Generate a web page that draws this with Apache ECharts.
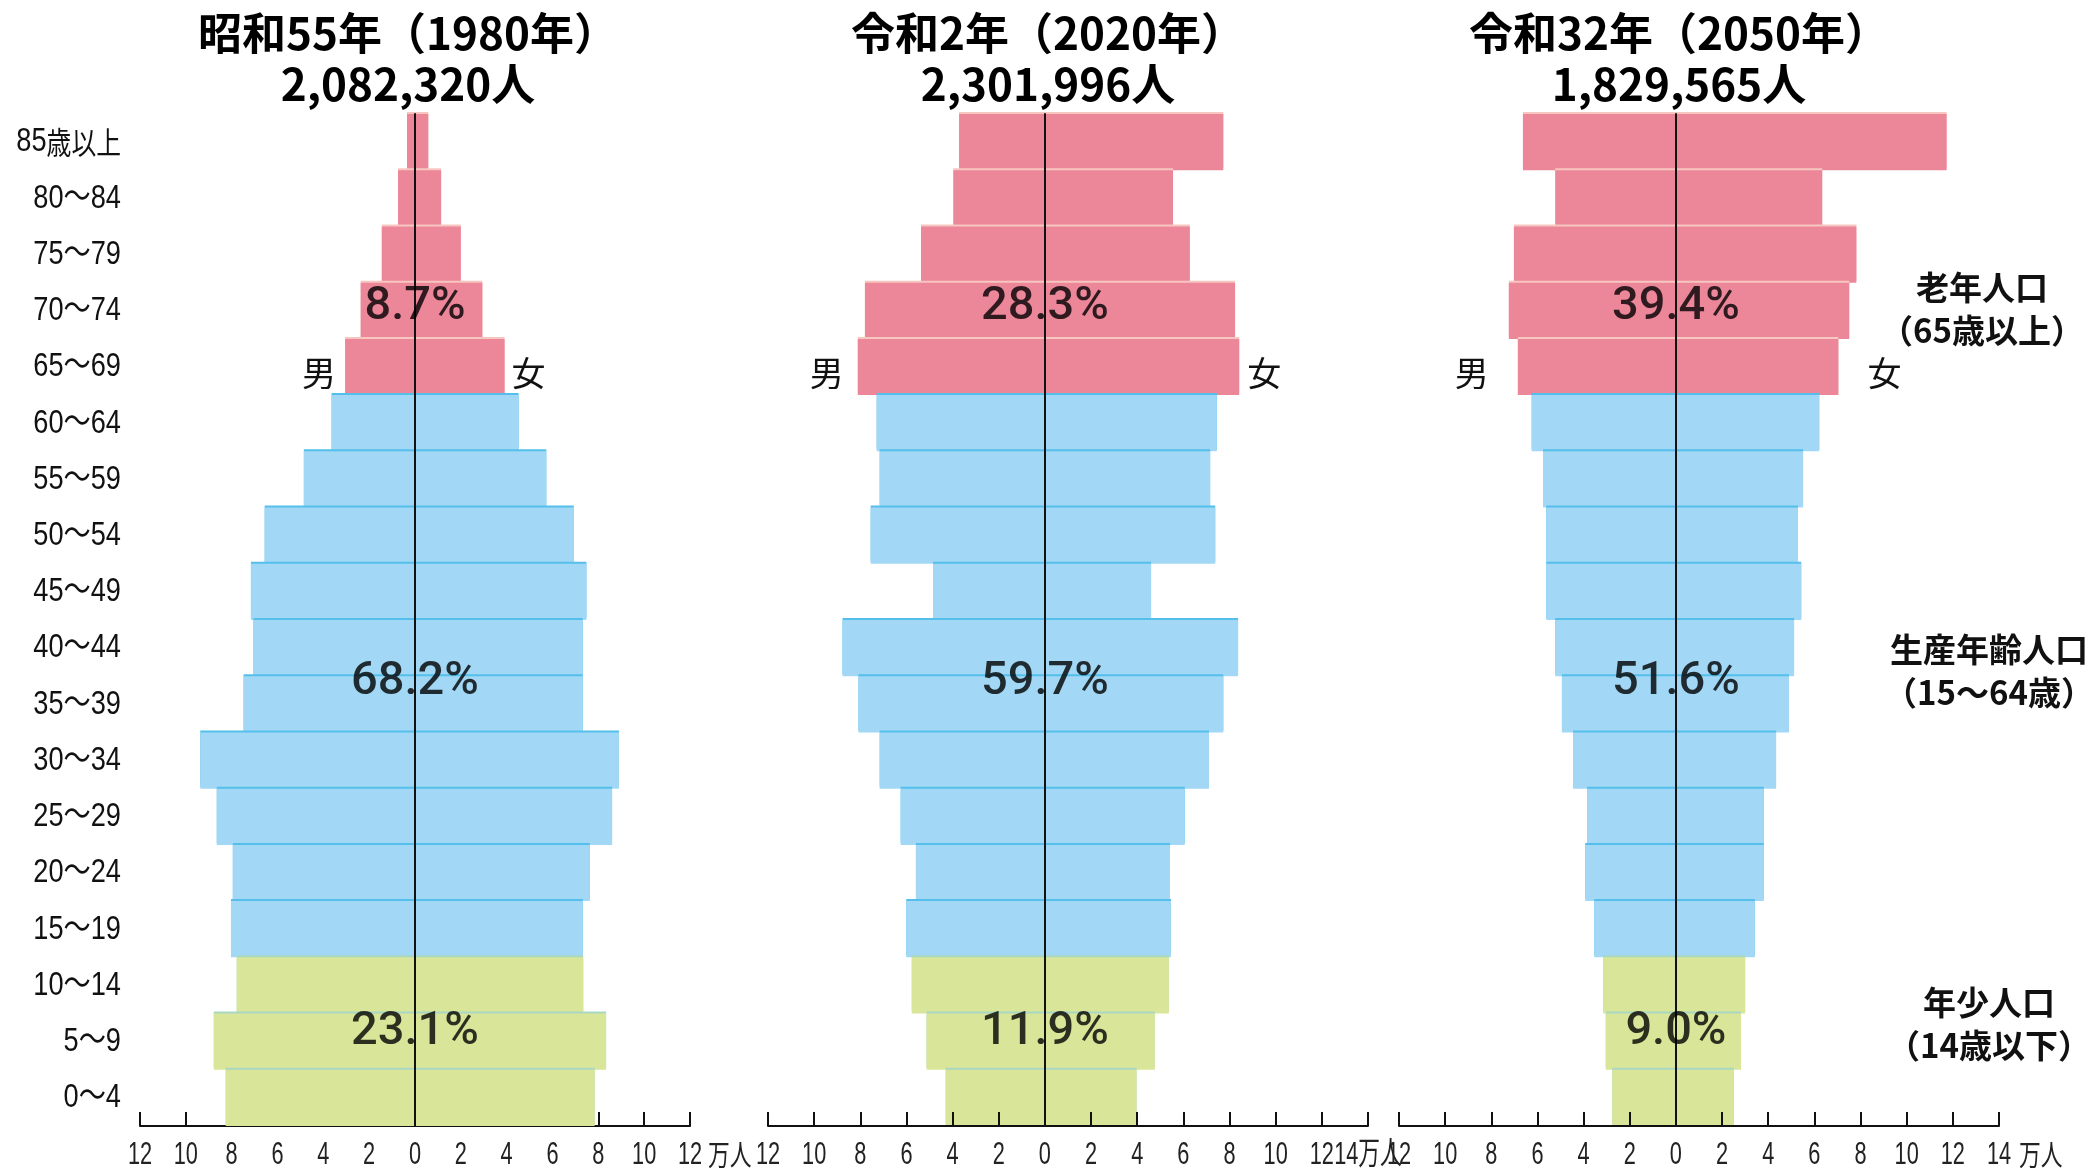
<!DOCTYPE html>
<html><head><meta charset="utf-8">
<script src="https://cdn.jsdelivr.net/npm/echarts/dist/echarts.min.js"></script>
<style>html,body{margin:0;padding:0;background:#fff}#c{width:2091px;height:1169px}</style>
</head><body><div id="c"></div>
<script>
// ---------- data ----------
const ageCats = ['85歳以上','80～84','75～79','70～74','65～69','60～64','55～59','50～54','45～49','40～44','35～39','30～34','25～29','20～24','15～19','10～14','5～9','0～4'];
// 0: 老年人口, 1: 生産年齢人口, 2: 年少人口
const ageGroup = [0,0,0,0,0,1,1,1,1,1,1,1,1,1,1,2,2,2];

const titleYears = ['昭和55年（1980年）','令和2年（2020年）','令和32年（2050年）'];
const totals = ['2,082,320人','2,301,996人','1,829,565人'];

// 万人
const male1980   = [0.35,0.74,1.45,2.37,3.05,3.64,4.85,6.56,7.16,7.05,7.48,9.37,8.65,7.95,8.03,7.78,8.78,8.26];
const female1980 = [0.58,1.14,2.00,2.94,3.91,4.52,5.73,6.93,7.48,7.32,7.32,8.90,8.60,7.63,7.32,7.34,8.34,7.84];
const male2020   = [3.72,3.97,5.37,7.80,8.11,7.29,7.16,7.55,4.85,8.77,8.08,7.16,6.25,5.59,6.01,5.77,5.13,4.30];
const female2020 = [7.73,5.55,6.28,8.24,8.42,7.45,7.16,7.38,4.60,8.37,7.73,7.11,6.06,5.42,5.46,5.37,4.76,3.97];
const male2050   = [6.63,5.23,7.02,7.24,6.85,6.25,5.76,5.62,5.62,5.23,4.94,4.46,3.85,3.93,3.54,3.15,3.04,2.76];
const female2050 = [11.73,6.34,7.82,7.51,7.04,6.21,5.51,5.29,5.43,5.12,4.90,4.34,3.81,3.81,3.42,3.00,2.82,2.51];

const pct1980 = ['8.7%','68.2%','23.1%'];
const pct2020 = ['28.3%','59.7%','11.9%'];
const pct2050 = ['39.4%','51.6%','9.0%'];
const pctRows = ['70～74','35～39','5～9'];

const groupNames = ['老年人口\n（65歳以上）','生産年齢人口\n（15～64歳）','年少人口\n（14歳以下）'];
const axisMin = -12;
const axisMax = [12,14,14];
const unitText = '万人';

// ---------- style / layout ----------
const SANS = "'Liberation Sans',Arial,'Noto Sans CJK JP',sans-serif";
const JP = "'Noto Sans CJK JP',sans-serif";
const PCTFONT = "Roboto,'Liberation Sans',Arial,sans-serif";
const fills = ['#EC8699','#A2D8F5','#D9E599'];
const edges = ['#F8C6C0','#55BFEC','#A9D8C2'];
const TOP = 114, BOTTOM = 43;
const panels = [
  {left:140,  width:550, joined:false, unitGap:18, manGap:9,  womanGap:7,  axisZ:0,  titleX:408},
  {left:768,  width:600, joined:true,  unitGap:0,  manGap:14, womanGap:8,  axisZ:10, titleX:1048},
  {left:1399, width:600, joined:false, unitGap:20, manGap:29, womanGap:29, axisZ:10, titleX:1679}
];
const males = [male1980, male2020, male2050];
const females = [female1980, female2020, female2050];
const pcts = [pct1980, pct2020, pct2050];
const pctOffsets = [-4, -22, -9];

const grids = panels.map(p => ({left:p.left, width:p.width, top:TOP, bottom:BOTTOM}));

const xAxes = panels.map((p,k) => ({
  type:'value', gridIndex:k, min:axisMin, max:axisMax[k], interval:2, z:p.axisZ,
  axisLine:{show:true, onZero:false, lineStyle:{color:'#111', width:2}},
  axisTick:{show:true, inside:true, length:14, lineStyle:{color:'#111', width:2}},
  splitLine:{show:false},
  axisLabel:{show:false}
}));

const yAxes = panels.map((p,k) => ({
  type:'category', gridIndex:k, data:ageCats, inverse:true, z:10, position:'left',
  axisLine:{show:true, onZero:true, lineStyle:{color:'#111', width:2}},
  axisTick:{show:false}, axisLabel:{show:false}, splitLine:{show:false}
}));

const sideLabel = (text, pos, dist) => ({
  show:true, position:pos, distance:dist, formatter:text,
  fontFamily:JP, fontSize:34, color:'#111', offset:[0,6]
});

const series = [];
panels.forEach((p,k) => {
  const mk = (arr, sign, isMale) => arr.map((v,i) => {
    const g = ageGroup[i];
    const item = {
      value: sign * v,
      itemStyle:{color:fills[g], shadowColor:edges[g], shadowOffsetY:-2, shadowOffsetX:0, shadowBlur:0}
    };
    if (i === 4) item.label = isMale ? sideLabel('男','left',p.manGap) : sideLabel('女','right',p.womanGap);
    return item;
  });
  series.push({
    type:'bar', name:'男', xAxisIndex:k, yAxisIndex:k, stack:'s'+k,
    barCategoryGap:'0%', silent:true, data: mk(males[k], -1, true)
  });
  series.push({
    type:'bar', name:'女', xAxisIndex:k, yAxisIndex:k, stack:'s'+k,
    barCategoryGap:'0%', silent:true, data: mk(females[k], 1, false)
  });
  series.push({
    type:'scatter', xAxisIndex:k, yAxisIndex:k, z:20, silent:true,
    symbol:'circle', symbolSize:1, itemStyle:{color:'rgba(0,0,0,0)'},
    data: pctRows.map((r,j) => ({
      value:[0, r],
      label:{show:true, position:'inside', formatter:pcts[k][j], offset:[0,pctOffsets[j]],
             fontFamily:PCTFONT, fontWeight:500, fontSize:47, color:'#000'}
    }))
  });
});

const titles = panels.map((p,k) => ({
  text: titleYears[k] + '\n' + totals[k], left:p.titleX, top:8, textAlign:'center', padding:0,
  textStyle:{fontFamily:JP, fontWeight:'bold', fontSize:44, lineHeight:51, color:'#000'}
}));

const chart = echarts.init(document.getElementById('c'), null, {renderer:'canvas'});
chart.setOption({
  animation:false,
  backgroundColor:'#fff',
  title: titles,
  grid: grids,
  xAxis: xAxes,
  yAxis: yAxes,
  series: series
});

// ---------- condensed text labels placed through the axes ----------
const graphic = [];
// group annotations on the right
const annY = [309, 671, 1024];
const annX = [1982, 1989, 1989];
groupNames.forEach((t,i) => graphic.push({
  type:'text', x:annX[i], y:annY[i], silent:true, z:30,
  style:{text:t, fill:'#111', fontFamily:JP, fontWeight:'bold', fontSize:33, lineHeight:43,
         textAlign:'center', align:'center', textVerticalAlign:'middle', verticalAlign:'middle'}
}));
// age labels (left of first panel)
const labelRight = chart.convertToPixel({xAxisIndex:0}, axisMin) - 19;
ageCats.forEach(cat => {
  const y = chart.convertToPixel({yAxisIndex:0}, cat);
  const m = cat.match(/^(\d+)(歳以上)$/);
  graphic.push({
    type:'text', x:labelRight, y:y, scaleX:0.8, silent:true, z:30,
    style:{
      text: m ? ('{n|' + m[1] + '}{c|' + m[2] + '}') : cat,
      fill:'#111', fontFamily:SANS, fontSize:34,
      textAlign:'right', align:'right', textVerticalAlign:'middle', verticalAlign:'middle',
      rich:{ n:{fontFamily:SANS, fontSize:34, fill:'#111'}, c:{fontFamily:JP, fontSize:31, fill:'#111'} }
    }
  });
});
// x-axis tick labels
const axisY = chart.getHeight() - BOTTOM;
panels.forEach((p,k) => {
  for (let v = axisMin; v <= axisMax[k]; v += 2) {
    const x = chart.convertToPixel({xAxisIndex:k}, v);
    let txt = String(Math.abs(v));
    if (v === axisMax[k] && p.joined) txt = txt + unitText;
    graphic.push({
      type:'text', x:x, y:axisY + 29, scaleX:0.68, silent:true, z:30,
      style:{text:txt, fill:'#222', fontFamily:SANS, fontSize:32,
             textAlign:'center', align:'center', textVerticalAlign:'middle', verticalAlign:'middle'}
    });
  }
  if (!p.joined) {
    const xe = chart.convertToPixel({xAxisIndex:k}, axisMax[k]) + p.unitGap;
    graphic.push({
      type:'text', x:xe, y:axisY + 29, scaleX:0.75, silent:true, z:30,
      style:{text:unitText, fill:'#222', fontFamily:JP, fontSize:29,
             textAlign:'left', align:'left', textVerticalAlign:'middle', verticalAlign:'middle'}
    });
  }
});
chart.setOption({graphic: graphic});
</script></body></html>
